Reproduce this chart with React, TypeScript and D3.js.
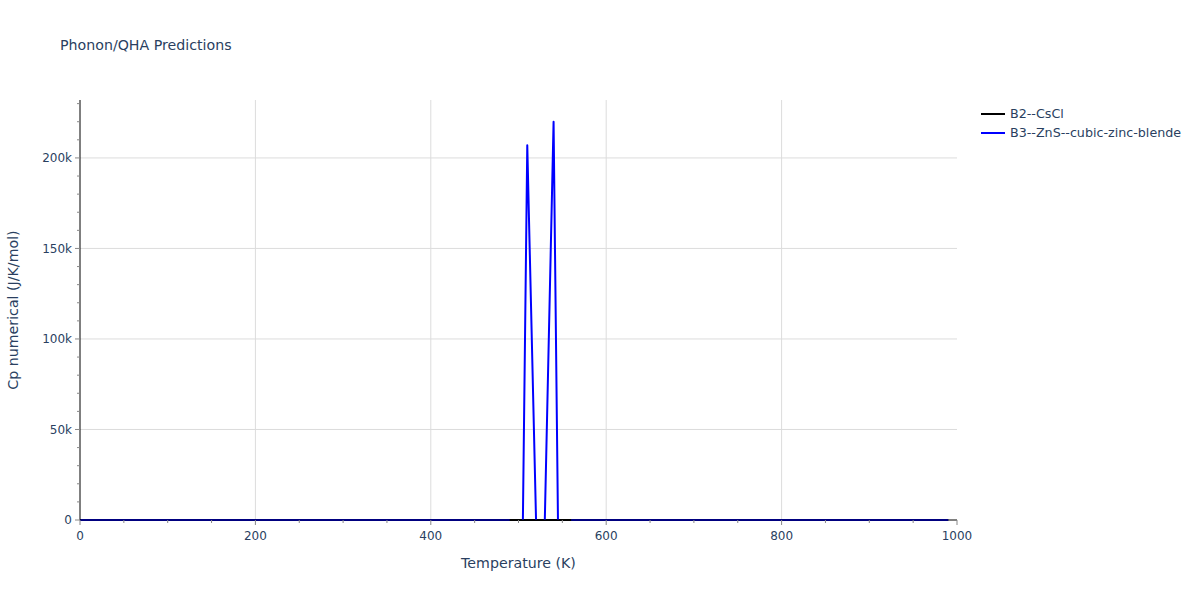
import React from "react";
import * as d3 from "d3";

const title = "Phonon/QHA Predictions";
const xTitle = "Temperature (K)";
const yTitle = "Cp numerical (J/K/mol)";

const xTicks = [0, 200, 400, 600, 800, 1000];
const yTicks = [0, 50000, 100000, 150000, 200000];
const yTickLabels = ["0", "50k", "100k", "150k", "200k"];

// B2--CsCl: flat at zero over the whole range
const csclT = [0, 990];
const csclCp = [0, 0];

// B3--ZnS--cubic-zinc-blende: segments separated by gaps
const znsSeg1T = [0, 490];
const znsSeg1Cp = [0, 0];
const znsSeg2T = [505, 510, 520];
const znsSeg2Cp = [0, 207000, 0];
const znsSeg3T = [530, 540, 545];
const znsSeg3Cp = [0, 220000, 0];
const znsSeg4T = [560, 990];
const znsSeg4Cp = [0, 0];

const seriesNames = ["B2--CsCl", "B3--ZnS--cubic-zinc-blende"];
const seriesColors = ["#000000", "#0000ff"];

const W = 1200, H = 600;
const L = 80, R = 957, T = 100, B = 520;
const font = "'DejaVu Sans', verdana, arial, sans-serif";
const textColor = "#2a3f5f";

export default function App() {
  const x = d3.scaleLinear().domain([0, 1000]).range([L, R]);
  const y = d3.scaleLinear().domain([0, 232000]).range([B, T]);
  const line = d3.line<[number, number]>().x(d => x(d[0])).y(d => y(d[1]));
  const zip = (a: number[], b: number[]) => a.map((v, i) => [v, b[i]] as [number, number]);

  const cscl = [zip(csclT, csclCp)];
  const zns = [zip(znsSeg1T, znsSeg1Cp), zip(znsSeg2T, znsSeg2Cp), zip(znsSeg3T, znsSeg3Cp), zip(znsSeg4T, znsSeg4Cp)];

  const xMinor = d3.range(0, 1001, 50).filter(v => v % 200 !== 0);
  const yMinor = d3.range(0, 232000, 10000).filter(v => v % 50000 !== 0);

  return (
    <svg width={W} height={H} style={{ display: "block", position: "absolute", left: 0, top: 0 }} fontFamily={font}>
      <rect width={W} height={H} fill="#fff" />
      {xTicks.filter(v => v > 0 && v < 1000).map(v => (
        <line key={"gx" + v} x1={x(v)} x2={x(v)} y1={T} y2={B} stroke="#dcdcdc" strokeWidth={1} />
      ))}
      {yTicks.filter(v => v > 0).map(v => (
        <line key={"gy" + v} x1={L} x2={R} y1={y(v)} y2={y(v)} stroke="#dcdcdc" strokeWidth={1} />
      ))}
      <g fill="none" strokeWidth={2} strokeLinejoin="round">
        {cscl.map((s, i) => <path key={"c" + i} d={line(s) || ""} stroke={seriesColors[0]} />)}
        {zns.map((s, i) => <path key={"z" + i} d={line(s) || ""} stroke={seriesColors[1]} />)}
      </g>
      {/* axis lines */}
      <line x1={L} x2={R} y1={B} y2={B} stroke="#000" strokeWidth={1} />
      <line x1={L} x2={L} y1={T} y2={B} stroke="#000" strokeWidth={1} />
      {/* x ticks */}
      {xTicks.map(v => (
        <g key={"xt" + v}>
          <line x1={x(v)} x2={x(v)} y1={B} y2={B + 5} stroke="#888" strokeWidth={1} />
          <text x={x(v)} y={B + 20} textAnchor="middle" fontSize={12} fill={textColor}>{v}</text>
        </g>
      ))}
      {xMinor.map(v => (
        <line key={"xm" + v} x1={x(v)} x2={x(v)} y1={B} y2={B + 3} stroke="#888" strokeWidth={1} />
      ))}
      {yTicks.map((v, i) => (
        <g key={"yt" + v}>
          <line x1={L - 5} x2={L} y1={y(v)} y2={y(v)} stroke="#888" strokeWidth={1} />
          <text x={L - 8} y={y(v)} dy="0.35em" textAnchor="end" fontSize={12} fill={textColor}>{yTickLabels[i]}</text>
        </g>
      ))}
      {yMinor.map(v => (
        <line key={"ym" + v} x1={L - 3} x2={L} y1={y(v)} y2={y(v)} stroke="#888" strokeWidth={1} />
      ))}
      <text x={(L + R) / 2} y={568} textAnchor="middle" fontSize={14.2} fill={textColor}>{xTitle}</text>
      <text transform={`translate(18,${(T + B) / 2}) rotate(-90)`} textAnchor="middle" fontSize={14.2} fill={textColor}>{yTitle}</text>
      <text x={60} y={50} fontSize={14.2} fill={textColor}>{title}</text>
      {seriesNames.map((n, i) => (
        <g key={"lg" + i} transform={`translate(981,${114 + i * 19})`}>
          <line x1={0} x2={24} y1={0} y2={0} stroke={seriesColors[i]} strokeWidth={2} />
          <text x={29} y={0} dy="0.35em" fontSize={12.7} fill={textColor}>{n}</text>
        </g>
      ))}
    </svg>
  );
}
